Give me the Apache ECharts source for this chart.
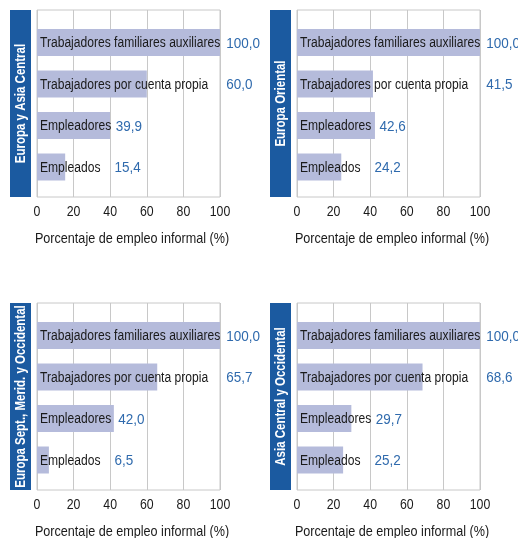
<!DOCTYPE html>
<html><head><meta charset="utf-8">
<script src="https://cdn.jsdelivr.net/npm/echarts@6/dist/echarts.min.js"></script>
<style>html,body{margin:0;padding:0;background:#fff}#c{width:518px;height:538px}</style>
</head><body><div id="c"></div>
<script>
const categories = ['Trabajadores familiares auxiliares','Trabajadores por cuenta propia','Empleadores','Empleados'];
const regions = ['Europa y Asia Central','Europa Oriental','Europa Sept., Merid. y Occidental','Asia Central y Occidental'];
const valuesEuropaAsiaCentral = [100.0, 60.0, 39.9, 15.4];
const valuesEuropaOriental = [100.0, 41.5, 42.6, 24.2];
const valuesEuropaSeptMeridOcc = [100.0, 65.7, 42.0, 6.5];
const valuesAsiaCentralOcc = [100.0, 68.6, 29.7, 25.2];
const xTicks = [0, 20, 40, 60, 80, 100];
const xAxisTitle = 'Porcentaje de empleo informal (%)';

const seriesValues = [valuesEuropaAsiaCentral, valuesEuropaOriental, valuesEuropaSeptMeridOcc, valuesAsiaCentralOcc];
const FONT = '"Liberation Sans", Arial, sans-serif';
const CAT_FONT = '14px ' + FONT;
const VAL_FONT = '14.5px ' + FONT;
const CAT_SCALE = 0.863, VAL_SCALE = 0.93;
const panels = [{l:37,t:10},{l:297,t:10},{l:37,t:303},{l:297,t:303}];
const PW = 183, PH = 187;
const valGap = [6, 18, 4.5, 14];

const mctx = document.createElement('canvas').getContext('2d');
function textW(s, font){ mctx.font = font; return mctx.measureText(s).width; }
const fmt = v => v.toFixed(1).replace('.', ',');

function renderBar(params, api){
  const k = api.value(0), v = api.value(1);
  const s = api.coord([0, k]), e = api.coord([v, k]);
  const h = 27;
  const textEnd = s[0] + 3 + textW(categories[k], CAT_FONT) * CAT_SCALE;
  const vx = Math.max(textEnd, e[0]) + valGap[k];
  return {type:'group', children:[
    {type:'rect', shape:{x:s[0], y:s[1]-h/2, width:e[0]-s[0], height:h}, style:{fill:'#b5bbdb'}},
    {type:'text', x:s[0]+3, y:s[1]+1, scaleX:CAT_SCALE, style:{text:categories[k], font:CAT_FONT, fill:'#1a1a1a', verticalAlign:'middle', align:'left'}},
    {type:'text', x:vx, y:s[1]+1, scaleX:VAL_SCALE, style:{text:fmt(v), font:VAL_FONT, fill:'#2f6aad', verticalAlign:'middle', align:'left'}}
  ]};
}
function renderTick(params, api){
  const t = api.value(0);
  const p = api.coord([t, 0]);
  return {type:'text', x:p[0], y:p[1]+15, scaleX:0.82,
    style:{text:String(t), font:'15px '+FONT, fill:'#1a1a1a', align:'center', verticalAlign:'middle'}};
}

const grids=[], xAxes=[], yAxes=[], series=[], graphics=[];
panels.forEach((p,i)=>{
  grids.push({left:p.l, top:p.t, width:PW, height:PH, show:true, borderColor:'#c8c8c8', borderWidth:1, backgroundColor:'transparent'});
  grids.push({left:p.l, top:p.t+11.75, width:PW, height:166});
  xAxes.push({gridIndex:2*i, type:'value', min:0, max:100, interval:20,
    axisLine:{show:false}, axisTick:{show:false}, axisLabel:{show:false},
    splitLine:{show:true, lineStyle:{color:'#c8c8c8', width:1}}});
  xAxes.push({gridIndex:2*i+1, type:'value', min:0, max:100, show:false});
  yAxes.push({gridIndex:2*i, type:'value', min:0, max:1, show:false, splitLine:{show:false}});
  yAxes.push({gridIndex:2*i+1, type:'category', inverse:true, data:categories, show:false});
  series.push({type:'custom', xAxisIndex:2*i, yAxisIndex:2*i, silent:true, clip:false,
    encode:{x:0}, data:xTicks.map(t=>[t]), renderItem:renderTick});
  series.push({type:'custom', xAxisIndex:2*i+1, yAxisIndex:2*i+1, silent:true,
    encode:{x:1, y:0}, data:seriesValues[i].map((v,k)=>[k, v]), renderItem:renderBar, clip:false});
  graphics.push({type:'rect', shape:{x:p.l-27, y:p.t, width:21, height:PH}, style:{fill:'#1b5aa0'}});
  graphics.push({type:'text', x:p.l-16, y:p.t+PH/2, rotation:Math.PI/2, scaleX:0.82,
    style:{text:regions[i], fill:'#fff', font:'bold 14px '+FONT, align:'center', verticalAlign:'middle'}});
  graphics.push({type:'text', x:p.l+PW/2+3.5, y:p.t+PH+41.5, scaleX:0.87,
    style:{text:xAxisTitle, fill:'#1a1a1a', font:'14.5px '+FONT, align:'center', verticalAlign:'middle'}});
});

const chart = echarts.init(document.getElementById('c'), null, {renderer:'canvas'});
chart.setOption({animation:false, grid:grids, xAxis:xAxes, yAxis:yAxes, series:series, graphic:graphics});
</script></body></html>
